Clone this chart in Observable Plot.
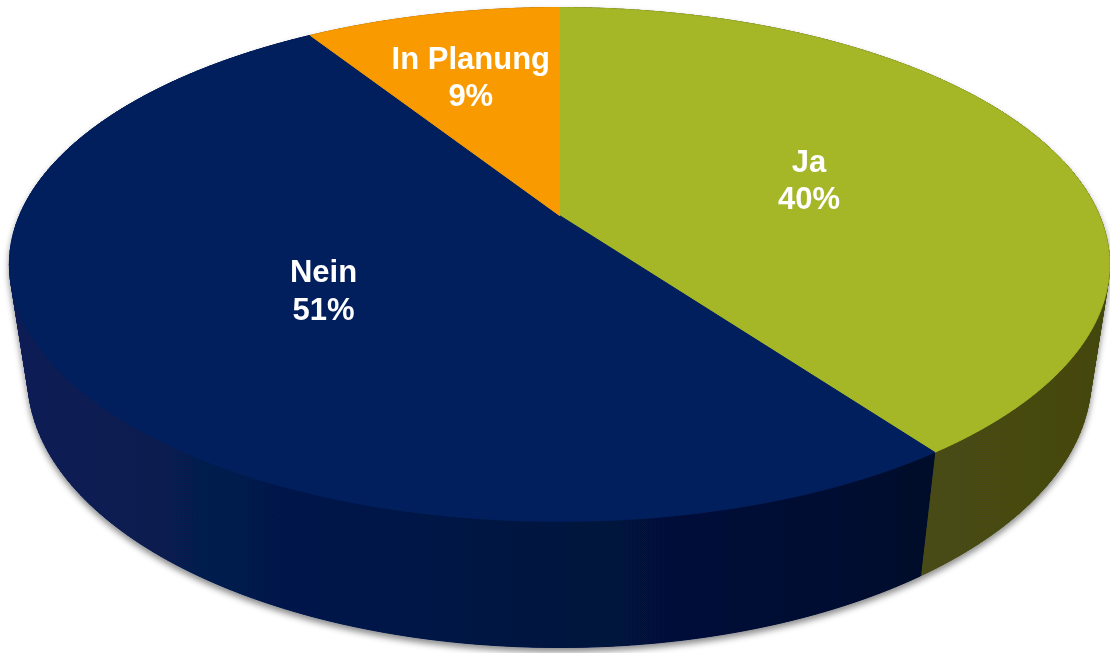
<!DOCTYPE html>
<html>
<head>
<meta charset="utf-8">
<script src="https://cdn.jsdelivr.net/npm/d3@7"></script>
<script src="https://cdn.jsdelivr.net/npm/@observablehq/plot@0.6"></script>
<style>
  html, body { margin: 0; padding: 0; background: #ffffff; }
  #chart { width: 1110px; height: 653px; overflow: hidden; }
</style>
</head>
<body>
<div id="chart"></div>
<script>
// ---- data ----
const categories = ["Ja", "Nein", "In Planung"];
const values = [40, 51, 9];
const topColors = ["#a5b626", "#001f5c", "#f99b00"];
const sideFills = ["url(#side-ja)", "url(#side-nein)", "url(#side-plan)"];

// ---- view (3D perspective) parameters ----
const W = 1110, H = 653;
const CX = 559, CY = 215;            // apex of the pie on screen
const A = 540, B = 247.6, C = 116.5; // horizontal radius, vertical radius, thickness
const K = 0.1906, M = 0.0334;        // perspective factors

function proj(theta, t, r = 1) {
  const u = r * Math.sin(theta), v = r * Math.cos(theta);
  const w = 1 + K * v + M * t;
  return {x: A * u / w, y: (B * v - C * t) / w};
}

const slices = d3.pie().sort(null).value(d => d.value)(
  categories.map((c, i) => ({category: c, value: values[i]}))
);

function arcAngles(s) {
  const n = Math.max(4, Math.ceil((s.endAngle - s.startAngle) / 0.005));
  return d3.range(n + 1).map(j => s.startAngle + (s.endAngle - s.startAngle) * j / n);
}

// top faces
const topPts = [];
slices.forEach(s => {
  const cat = s.data.category;
  topPts.push({...proj(0, 0, 0), cat});
  for (const th of arcAngles(s)) topPts.push({...proj(th, 0), cat});
  topPts.push({...proj(0, 0, 0), cat});
});

// side walls: one band per slice, plus thin quads that complete the silhouette
const step = Math.PI / 180;
const sideQuads = slices.map(s => {
  const cat = s.data.category;
  const pts = [];
  let id = 0;
  for (let a = s.startAngle; a < s.endAngle - 1e-9; a += step) {
    const b = Math.min(a + step, s.endAngle);
    const q = cat + "-" + (id++);
    pts.push({...proj(a, 0), q}, {...proj(b, 0), q}, {...proj(b, 1), q}, {...proj(a, 1), q}, {...proj(a, 0), q});
  }
  return pts;
});
const sideBands = slices.map(s => {
  const ang = arcAngles(s);
  return [...ang.map(th => proj(th, 0)), ...ang.slice().reverse().map(th => proj(th, 1))];
});

// labels
const labels = slices.map(s => {
  const mid = (s.startAngle + s.endAngle) / 2;
  const r = s.data.value < 15 ? 0.66 : 0.5;
  const p = proj(mid, 0, r);
  return {x: p.x, y: p.y, text: `${s.data.category}\n${s.data.value}%`};
});

const order = [2, 0, 1]; // back to front for the sides
const sideMarks = order.flatMap(i => [
  Plot.line(sideQuads[i], {x: "x", y: "y", z: "q", fill: sideFills[i], stroke: sideFills[i], strokeWidth: 1, curve: "linear"}),
  Plot.line(sideBands[i], {x: "x", y: "y", fill: sideFills[i], stroke: "none", curve: "linear-closed"})
]);

const chart = Plot.plot({
  width: W, height: H,
  margin: 0, marginTop: 0, marginRight: 0, marginBottom: 0, marginLeft: 0,
  x: {domain: [-CX, W - CX], axis: null},
  y: {domain: [-(H - CY), CY], axis: null},
  color: {domain: categories, range: topColors},
  style: {background: "#ffffff", overflow: "visible"},
  marks: [
    ...sideMarks,
    Plot.line(topPts, {x: "x", y: "y", z: "cat", fill: "cat", stroke: "cat", strokeWidth: 1, curve: "linear"}),
    Plot.text(labels, {
      x: "x", y: "y", text: "text",
      fill: "white", fontWeight: "bold", fontSize: 31,
      fontFamily: "'Liberation Sans', Arial, sans-serif",
      lineHeight: 1.2
    })
  ]
});

// gradients for the side walls + soft shadow
const ns = "http://www.w3.org/2000/svg";
const defs = document.createElementNS(ns, "defs");
defs.innerHTML = `
  <linearGradient id="side-nein" gradientUnits="userSpaceOnUse" x1="0" y1="0" x2="${W}" y2="0">
    <stop offset="0" stop-color="#0b1f55"/>
    <stop offset="0.3" stop-color="#03184a"/>
    <stop offset="0.6" stop-color="#00113a"/>
    <stop offset="0.85" stop-color="#000b2a"/>
  </linearGradient>
  <linearGradient id="side-ja" gradientUnits="userSpaceOnUse" x1="0" y1="0" x2="${W}" y2="0">
    <stop offset="0.8" stop-color="#4a4d13"/>
    <stop offset="1" stop-color="#434610"/>
  </linearGradient>
  <linearGradient id="side-plan" gradientUnits="userSpaceOnUse" x1="0" y1="0" x2="${W}" y2="0">
    <stop offset="0" stop-color="#8a5400"/>
    <stop offset="1" stop-color="#8a5400"/>
  </linearGradient>
  <filter id="shadow" x="-5%" y="-5%" width="110%" height="115%">
    <feDropShadow dx="0" dy="4" stdDeviation="3" flood-color="#000" flood-opacity="0.45"/>
  </filter>`;
chart.insertBefore(defs, chart.firstChild);

const gs = Array.from(chart.querySelectorAll(":scope > g"));
const wrap = document.createElementNS(ns, "g");
wrap.setAttribute("filter", "url(#shadow)");
chart.insertBefore(wrap, gs[0]);
for (let i = 0; i < sideMarks.length; i++) wrap.appendChild(gs[i]);

document.getElementById("chart").appendChild(chart);
</script>
</body>
</html>
